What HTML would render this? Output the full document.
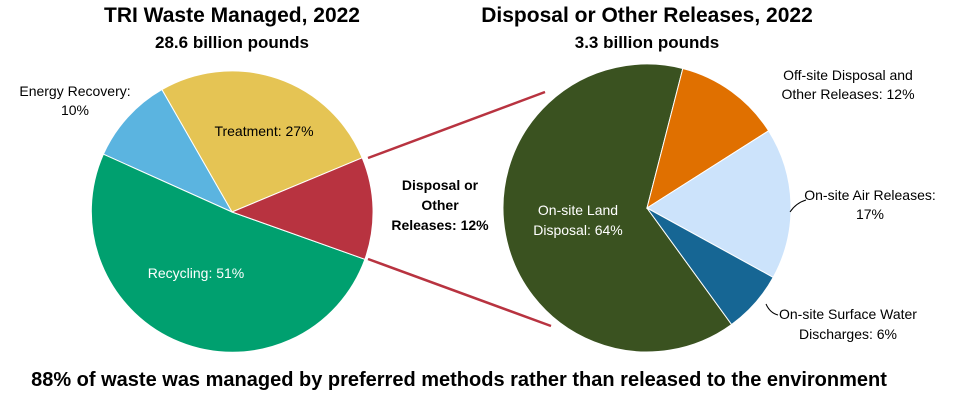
<!DOCTYPE html>
<html><head><meta charset="utf-8"><style>
html,body{margin:0;padding:0;background:#fff;}
svg text{font-family:"Liberation Sans",sans-serif;}
</style></head><body>
<svg width="960" height="401" viewBox="0 0 960 401" xmlns="http://www.w3.org/2000/svg">
<rect width="960" height="401" fill="#fff"/>
<text x="232" y="22" font-size="21" font-weight="bold" text-anchor="middle" fill="#000">TRI Waste Managed, 2022</text>
<text x="232" y="48" font-size="17" font-weight="bold" text-anchor="middle" fill="#000">28.6 billion pounds</text>
<text x="647" y="22" font-size="21" font-weight="bold" text-anchor="middle" fill="#000">Disposal or Other Releases, 2022</text>
<text x="647" y="48" font-size="17" font-weight="bold" text-anchor="middle" fill="#000">3.3 billion pounds</text>

<g stroke="#fff" stroke-width="1">
<path d="M232,212 L362.2,157.8 A141,141 0 0,0 161.9,89.6 Z" fill="#e5c454"/>
<path d="M232,212 L161.9,89.6 A141,141 0 0,0 103.4,154.2 Z" fill="#5bb4e0"/>
<path d="M232,212 L103.4,154.2 A141,141 0 1,0 364.9,259.3 Z" fill="#00a06f"/>
<path d="M232,212 L364.9,259.3 A141,141 0 0,0 362.2,157.8 Z" fill="#b83340"/>
</g>
<line x1="368" y1="158" x2="545" y2="92" stroke="#b83340" stroke-width="2.5"/>
<line x1="368" y1="259" x2="551" y2="326" stroke="#b83340" stroke-width="2.5"/>

<g stroke="#fff" stroke-width="1">
<path d="M647,208 L682.8,68.5 A144,144 0 1,0 731.6,324.5 Z" fill="#3a5220"/>
<path d="M647,208 L682.8,68.5 A144,144 0 0,1 768.6,130.8 Z" fill="#e07000"/>
<path d="M647,208 L768.6,130.8 A144,144 0 0,1 773.2,277.4 Z" fill="#cce3fb"/>
<path d="M647,208 L773.2,277.4 A144,144 0 0,1 731.6,324.5 Z" fill="#166694"/>
</g>

<g font-size="14">
<text x="75" y="96" text-anchor="middle" fill="#000">Energy Recovery:</text>
<text x="75" y="115" text-anchor="middle" fill="#000">10%</text>
<text x="264" y="136" text-anchor="middle" fill="#000">Treatment: 27%</text>
<text x="196" y="278" text-anchor="middle" fill="#fff">Recycling: 51%</text>
<text x="440" y="190" text-anchor="middle" font-weight="bold" fill="#000">Disposal or</text>
<text x="440" y="210" text-anchor="middle" font-weight="bold" fill="#000">Other</text>
<text x="440" y="230" text-anchor="middle" font-weight="bold" fill="#000">Releases: 12%</text>
<text x="578" y="215" text-anchor="middle" fill="#fff">On-site Land</text>
<text x="578" y="235" text-anchor="middle" fill="#fff">Disposal: 64%</text>
<text x="848" y="80" text-anchor="middle" fill="#000">Off-site Disposal and</text>
<text x="848" y="99" text-anchor="middle" fill="#000">Other Releases: 12%</text>
<text x="870" y="200" text-anchor="middle" fill="#000">On-site Air Releases:</text>
<text x="870" y="219" text-anchor="middle" fill="#000">17%</text>
<text x="848" y="319" text-anchor="middle" fill="#000">On-site Surface Water</text>
<text x="848" y="339" text-anchor="middle" fill="#000">Discharges: 6%</text>
</g>
<path d="M790,212 Q796,203 806,200" stroke="#000" fill="none" stroke-width="1"/>
<path d="M766,304 Q770,313 778,315" stroke="#000" fill="none" stroke-width="1"/>

<text x="459" y="386" font-size="20" font-weight="bold" text-anchor="middle" fill="#000">88% of waste was managed by preferred methods rather than released to the environment</text>
</svg>
</body></html>
